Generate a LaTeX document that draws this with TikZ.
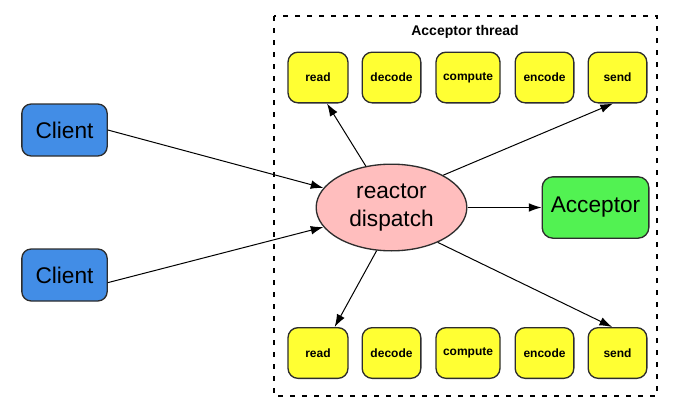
\documentclass[tikz,border=0pt]{standalone}
\usepackage{fontspec}
\setmainfont{Liberation Sans}
\usetikzlibrary{shapes.geometric,arrows.meta}
\definecolor{clientblue}{RGB}{66,141,230}
\definecolor{dispink}{RGB}{255,190,190}
\definecolor{accgreen}{RGB}{82,242,82}
\definecolor{stepyellow}{RGB}{255,255,51}
\definecolor{edge}{RGB}{45,45,45}
\begin{document}
\begin{tikzpicture}[
        x=0.75pt, y=-0.75pt,
        client/.style={draw=edge, line width=1pt, fill=clientblue, rounded corners=7pt,
            minimum width=64pt, minimum height=39pt, font=\fontsize{17}{20}\selectfont},
        stepbox/.style={draw=edge, line width=1pt, fill=stepyellow, rounded corners=7.5pt,
            minimum height=38pt, inner sep=0pt, font=\fontsize{9}{11}\selectfont\bfseries},
        link/.style={-{Latex[length=9.5pt,width=6.5pt]}, line width=0.75pt, black},
        frame/.style={line width=2pt, black, dash pattern=on 3.5pt off 5.5pt}
    ]
        % Lienzo
        \useasboundingbox (0,0) rectangle (682,407);

        % Parámetros
        \def\ytop{77.5}
        \def\ybot{353}

        % Marco del hilo
        \draw[frame] (274,16) rectangle (657,396);
        \node[font=\fontsize{10.5}{12}\selectfont\bfseries] (title) at (465,32) {Acceptor thread};

        % Clientes
        \node[client] (clientA) at (64.5,130) {Client};
        \node[client] (clientB) at (64.5,275) {Client};

        % Dispatcher y acceptor
        \node[ellipse, draw=edge, line width=1pt, fill=dispink, minimum width=113pt,
            minimum height=65pt, inner sep=0pt, align=center,
            font=\fontsize{17}{21}\selectfont] (disp) at (391.5,207.5) {reactor\\dispatch};
        \node[draw=edge, line width=1pt, fill=accgreen, rounded corners=8pt,
            minimum width=80pt, minimum height=46pt,
            font=\fontsize{17}{20}\selectfont] (acceptor) at (595.5,207.5) {Acceptor};

        % Etapas arriba
        \node[stepbox, minimum width=45pt] (readT) at (318,\ytop) {read};
        \node[stepbox, minimum width=44pt] (decodeT) at (391.5,\ytop) {decode};
        \node[stepbox, minimum width=48pt] (computeT) at (468,\ytop) {compute};
        \node[stepbox, minimum width=44pt] (encodeT) at (544.5,\ytop) {encode};
        \node[stepbox, minimum width=44pt] (sendT) at (617.5,\ytop) {send};

        % Etapas abajo
        \node[stepbox, minimum width=45pt] (readB) at (318,\ybot) {read};
        \node[stepbox, minimum width=44pt] (decodeB) at (391.5,\ybot) {decode};
        \node[stepbox, minimum width=48pt] (computeB) at (468,\ybot) {compute};
        \node[stepbox, minimum width=44pt] (encodeB) at (544.5,\ybot) {encode};
        \node[stepbox, minimum width=44pt] (sendB) at (617.5,\ybot) {send};

        % Conexiones
        \draw[link] (clientA.east) -- (disp.164);
        \draw[link] (clientB.-10) -- (disp.196);
        \draw[link] (disp.east) -- (acceptor.west);
        \draw[link] (disp) -- ([xshift=6.75pt]readT.south);
        \draw[link] (disp.32) -- ([xshift=-3.4pt]sendT.south);
        \draw[link] (disp.-109) -- ([xshift=12.5pt]readB.north);
        \draw[link] (disp.-37) -- ([xshift=-4pt]sendB.north);

    \end{tikzpicture}
\end{document}
